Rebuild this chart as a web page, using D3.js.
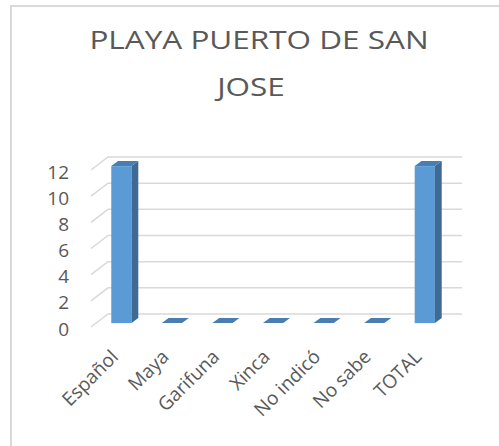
<!DOCTYPE html>
<html>
<head>
<meta charset="utf-8">
<script src="https://cdn.jsdelivr.net/npm/d3@7"></script>
<style>
  body { margin: 0; background: #fff; }
  svg text { font-family: 'Open Sans', sans-serif; fill: #595959; }
</style>
</head>
<body>
<div id="chart"></div>
<script>
const categories = ['Español', 'Maya', 'Garifuna', 'Xinca', 'No indicó', 'No sabe', 'TOTAL'];
const values = [12, 0, 0, 0, 0, 0, 12];
const yTicks = [0, 2, 4, 6, 8, 10, 12];
const titleLines = ['PLAYA PUERTO DE SAN', 'JOSE'];

const width = 499, height = 446;

// 3D depth offset of the floor / back wall
const depthX = 17, depthY = -13;
// bar sits between these fractions of the depth
const t0 = 0.3, t1 = 0.7;

let svg = d3.select('#chart').append('svg')
    .attr('width', width)
    .attr('height', height);

// Outer border (only top and left visible)
svg.append('path')
    .attr('d', 'M11,446 L11,6 L499,6')
    .attr('fill', 'none')
    .attr('stroke', '#d9d9d9')
    .attr('stroke-width', 2);

// Title (the source picture is stretched horizontally)
const titlePos = [{x: 259, y: 49}, {x: 251, y: 96}];
svg.selectAll('.title')
    .data(titleLines)
    .enter()
    .append('text')
    .attr('class', 'title')
    .attr('transform', (d, i) => `translate(${titlePos[i].x},${titlePos[i].y}) scale(1.26,1)`)
    .attr('text-anchor', 'middle')
    .style('font-size', '25px')
    .text((d) => d);

let xScale = d3.scaleBand()
    .domain(categories)
    .range([91, 445])
    .paddingInner(0)
    .paddingOuter(0);

let yScale = d3.scaleLinear()
    .domain([0, 12])
    .range([327, 170]);

// Gridlines: slanted side-wall part and back-wall part
let grid = svg.append('g');
yTicks.forEach((t) => {
  let y = yScale(t);
  grid.append('path')
      .attr('d', `M91,${y} L${91 + depthX},${y + depthY} L${445 + depthX},${y + depthY}`)
      .attr('fill', 'none')
      .attr('stroke', '#d9d9d9')
      .attr('stroke-width', 1.5);
});

// Y axis labels
svg.append('g')
    .selectAll('text')
    .data(yTicks)
    .enter()
    .append('text')
    .attr('x', 69)
    .attr('y', (d) => yScale(d) + 2)
    .attr('dy', '0.35em')
    .attr('text-anchor', 'end')
    .style('font-size', '19px')
    .text((d) => d);

// Bars
const bw = xScale.bandwidth();
const ddx = depthX * (t1 - t0), ddy = depthY * (t1 - t0);
let bars = svg.append('g');

categories.forEach((c, i) => {
  let x0 = xScale(c) + bw * 0.3 + depthX * t0;
  let x1 = x0 + bw * 0.4;
  let yb = yScale(0) + depthY * t0;
  let yt = yScale(values[i]) + depthY * t0;

  if (values[i] > 0) {
    bars.append('rect')
        .attr('x', x0)
        .attr('y', yt)
        .attr('width', x1 - x0)
        .attr('height', yb - yt)
        .attr('fill', '#5b9bd5');
    bars.append('polygon')
        .attr('points', [[x1, yt], [x1 + ddx, yt + ddy], [x1 + ddx, yb + ddy], [x1, yb]].join(' '))
        .attr('fill', '#3f6a93');
  }
  bars.append('polygon')
      .attr('points', [[x0, yt], [x1, yt], [x1 + ddx, yt + ddy], [x0 + ddx, yt + ddy]].join(' '))
      .attr('fill', '#4a7db0');
});

// X axis labels, rotated -45
svg.append('g')
    .selectAll('text')
    .data(categories)
    .enter()
    .append('text')
    .attr('transform', (d) => `translate(${xScale(d) + bw / 2 + 3},${358}) rotate(-45)`)
    .attr('text-anchor', 'end')
    .style('font-size', '19px')
    .text((d) => d);
</script>
</body>
</html>
